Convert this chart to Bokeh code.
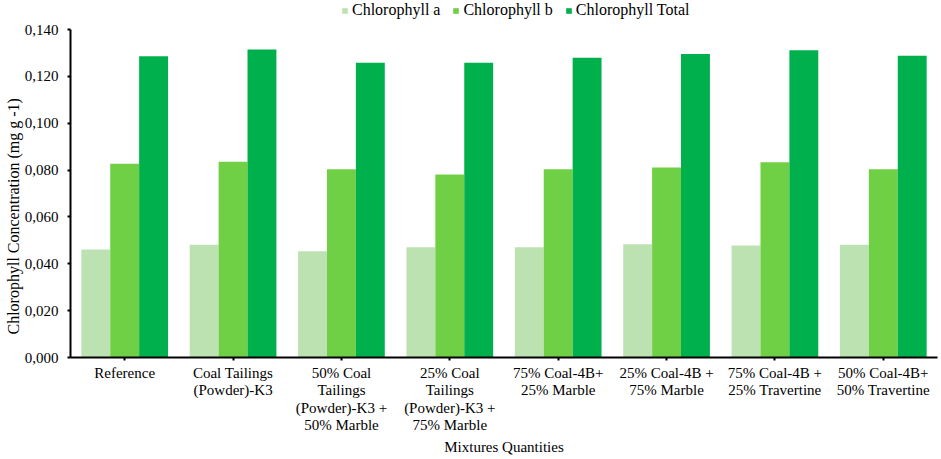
from bokeh.plotting import figure
from bokeh.models import (FactorRange, Range1d, FixedTicker, CustomJSTickFormatter,
                          ColumnDataSource, Legend, LegendItem, Title)
from bokeh.transform import dodge
from bokeh.embed import file_html
from bokeh.resources import INLINE

mixtures = [
    "Reference",
    "Coal Tailings\n(Powder)-K3",
    "50% Coal\nTailings\n(Powder)-K3 +\n50% Marble",
    "25% Coal\nTailings\n(Powder)-K3 +\n75% Marble",
    "75% Coal-4B+\n25% Marble",
    "25% Coal-4B +\n75% Marble",
    "75% Coal-4B +\n25% Travertine",
    "50% Coal-4B+\n50% Travertine",
]
chl_a = [0.0461, 0.0481, 0.0453, 0.0471, 0.0471, 0.0483, 0.0478, 0.0481]
chl_b = [0.0827, 0.0835, 0.0803, 0.0781, 0.0803, 0.0811, 0.0833, 0.0803]
chl_total = [0.1286, 0.1315, 0.1258, 0.1258, 0.1279, 0.1295, 0.1311, 0.1288]
series_names = ["Chlorophyll a", "Chlorophyll b", "Chlorophyll Total"]
y_ticks = [0.0, 0.02, 0.04, 0.06, 0.08, 0.10, 0.12, 0.14]
y_title = "Chlorophyll Concentration (mg g -1)"
x_title = "Mixtures Quantities"

colors = ["#BCE2B2", "#70D045", "#00B04C"]
FONT = "Liberation Serif"

# layout (pixels)
W, H = 941, 459
FRAME_LEFT, FRAME_BOTTOM, AXIS_TOP = 70, 357, 29   # axis spans 0..0.14 between AXIS_TOP and FRAME_BOTTOM
y_max = y_ticks[-1]
y_end = y_max * FRAME_BOTTOM / (FRAME_BOTTOM - AXIS_TOP)   # room above the axis for the legend

src = ColumnDataSource(dict(mix=mixtures, a=chl_a, b=chl_b, t=chl_total))

p = figure(width=W, height=H, x_range=FactorRange(factors=mixtures, range_padding=0),
           y_range=Range1d(0, y_end), output_backend="svg", toolbar_location=None,
           min_border_left=FRAME_LEFT, min_border_top=0,
           min_border_bottom=H - FRAME_BOTTOM, min_border_right=4)

bw = 0.8 / 3
renderers = []
for i, (col, name) in enumerate(zip(["a", "b", "t"], series_names)):
    r = p.vbar(x=dodge("mix", (i - 1) * bw, range=p.x_range), top=col, width=bw,
               source=src, fill_color=colors[i], line_color=None)
    renderers.append(r)

p.xgrid.visible = False
p.ygrid.visible = False
p.outline_line_color = None
p.background_fill_color = "white"
p.border_fill_color = "white"

# y axis
ya = p.yaxis[0]
ya.bounds = (0, y_max)
ya.ticker = FixedTicker(ticks=y_ticks)
ya.formatter = CustomJSTickFormatter(code="return tick.toFixed(3).replace('.', ',');")
ya.major_label_text_font = FONT
ya.major_label_text_font_size = "15px"
ya.major_label_text_color = "black"
ya.major_label_standoff = 9
ya.major_tick_out = 3
ya.major_tick_in = 0
ya.minor_tick_out = 0
ya.minor_tick_in = 0
ya.axis_line_color = "black"
ya.axis_line_width = 2
ya.major_tick_line_width = 2

# y title as a left-side title, starting a little above the x axis like the reference
p.add_layout(Title(text=y_title, align="left", offset=23, standoff=0,
                   text_font=FONT, text_font_size="16px", text_font_style="normal",
                   text_color="black"), "left")

# x axis
xa = p.xaxis[0]
xa.axis_label = x_title
xa.axis_label_text_font = FONT
xa.axis_label_text_font_size = "15px"
xa.axis_label_text_font_style = "normal"
xa.axis_label_text_color = "black"
xa.axis_label_standoff = 3
xa.major_label_text_font = FONT
xa.major_label_text_font_size = "15px"
xa.major_label_text_line_height = 1.1
xa.major_label_text_color = "black"
xa.major_label_standoff = 4
xa.major_tick_out = 3
xa.major_tick_in = 0
xa.axis_line_color = "black"
xa.axis_line_width = 2
xa.major_tick_line_width = 2

legend = Legend(items=[LegendItem(label=n, renderers=[r]) for n, r in zip(series_names, renderers)],
                orientation="horizontal", location=(271, FRAME_BOTTOM - 19),
                label_text_font=FONT, label_text_font_size="16px", label_text_color="black",
                glyph_width=7, glyph_height=7, label_standoff=4, spacing=12,
                padding=0, margin=0, border_line_color=None, background_fill_alpha=0,
                label_height=16)
p.add_layout(legend)

open("out.html", "w").write(file_html(p, INLINE))
